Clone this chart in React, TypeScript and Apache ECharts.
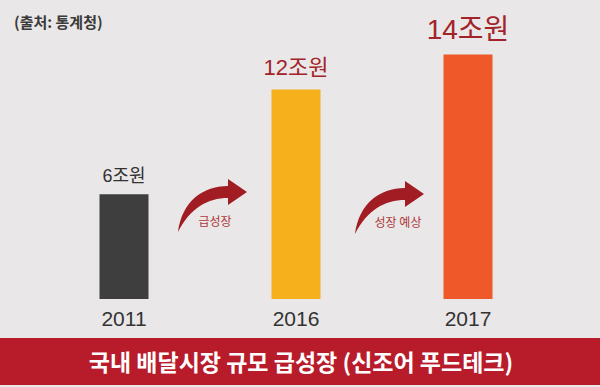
import React, { useEffect, useRef } from "react";
import * as echarts from "echarts";

const years = ["2011", "2016", "2017"];
const marketSize = [6, 12, 14];
const unit = "조원";
const barColors = ["#3e3e3e", "#f6b01b", "#ef5829"];
const labelColors = ["#333333", "#a3232a", "#a3232a"];
const labelSizes = [18, 22, 28];
const arrowTexts = ["급성장", "성장 예상"];
const sourceText = "(출처: 통계청)";
const bannerText = "국내 배달시장 규모 급성장 (신조어 푸드테크)";

const ARROW_D =
  "M0,0 C4,-30 24,-46 50,-46 L50,-53 L69,-40 L50,-27 L50,-34 C30,-34 12,-24 0,0 Z";

let registered = false;
function registerArrow() {
  if (registered) return;
  echarts.graphic.registerShape("curvedArrow", echarts.graphic.extendPath(ARROW_D, {}) as any);
  registered = true;
}

export default function App() {
  const ref = useRef<HTMLDivElement>(null);
  useEffect(() => {
    if (!ref.current) return;
    registerArrow();
    const chart = echarts.init(ref.current, null, { renderer: "svg" });
    const font = "'Liberation Sans', 'Noto Sans CJK KR', sans-serif";
    const kfont = "'Noto Sans CJK KR', sans-serif";
    chart.setOption({
      animation: false,
      backgroundColor: "#e9e7e7",
      grid: { left: 38, right: 46, top: 37, bottom: 88 },
      xAxis: {
        type: "category",
        data: years,
        axisLine: { show: false },
        axisTick: { show: false },
        axisLabel: { color: "#333333", fontSize: 21, fontFamily: font, margin: 9 },
      },
      yAxis: {
        type: "value",
        min: 0,
        max: 15,
        show: false,
        splitLine: { show: false },
      },
      series: [
        {
          type: "bar",
          barWidth: 49,
          data: marketSize.map((v, i) => ({
            value: v,
            itemStyle: { color: barColors[i] },
            label: {
              show: true,
              position: "top",
              distance: i === 0 ? 9 : 11,
              color: labelColors[i],
              fontSize: labelSizes[i],
              fontFamily: font,
              formatter: () => `${v}${unit}`,
            },
          })),
        },
      ],
      graphic: [
        {
          type: "text",
          left: 14,
          top: 14,
          style: { text: sourceText, fill: "#3a3a3a", font: `bold 15px ${kfont}` },
        },
        {
          type: "curvedArrow",
          x: 178,
          y: 232,
          style: { fill: "#a11c23" },
        },
        {
          type: "curvedArrow",
          x: 355,
          y: 234,
          style: { fill: "#a11c23" },
        },
        {
          type: "text",
          x: 215,
          y: 220,
          style: {
            text: arrowTexts[0],
            fill: "#b0383c",
            font: `12px ${kfont}`,
            align: "center",
            verticalAlign: "middle",
          },
        },
        {
          type: "text",
          x: 398,
          y: 221,
          style: {
            text: arrowTexts[1],
            fill: "#b0383c",
            font: `12px ${kfont}`,
            align: "center",
            verticalAlign: "middle",
          },
        },
        {
          type: "rect",
          shape: { x: 0, y: 338, width: 600, height: 47 },
          style: { fill: "#b81c2b" },
        },
        {
          type: "text",
          x: 301,
          y: 361,
          style: {
            text: bannerText,
            fill: "#ffffff",
            font: `bold 23px ${kfont}`,
            align: "center",
            verticalAlign: "middle",
          },
        },
      ],
    });
    return () => chart.dispose();
  }, []);
  return (
    <div
      ref={ref}
      style={{ position: "fixed", left: 0, top: 0, width: 600, height: 387 }}
    />
  );
}
